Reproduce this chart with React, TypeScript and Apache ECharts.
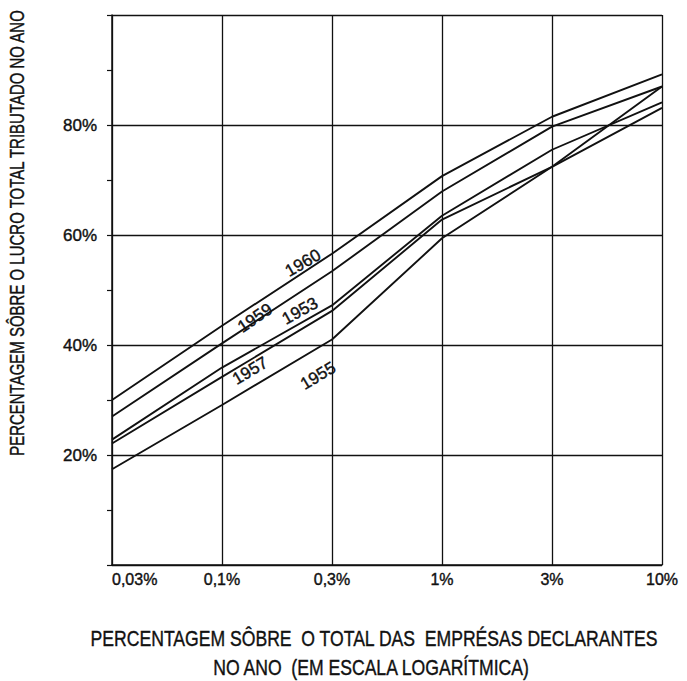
import React, { useEffect, useRef } from "react";
import * as echarts from "echarts";

const categories = ["0,03%", "0,1%", "0,3%", "1%", "3%", "10%"];
const years = ["1960", "1959", "1953", "1957", "1955"];
const s1960 = [30.0, 43.5, 56.6, 70.7, 81.5, 89.2];
const s1959 = [27.0, 40.3, 53.4, 67.9, 79.7, 87.0];
const s1953 = [22.8, 35.9, 47.2, 63.5, 75.5, 84.1];
const s1957 = [22.1, 34.2, 46.2, 62.8, 72.4, 83.1];
const s1955 = [17.4, 29.1, 41.0, 59.4, 72.4, 87.0];
// label anchor points in data space [category index, percent]
const labelAt1960 = [1.736, 54.9];
const labelAt1959 = [1.3, 44.9];
const labelAt1953 = [1.709, 46.2];
const labelAt1957 = [1.255, 35.3];
const labelAt1955 = [1.873, 34.4];
const yTicks = [0, 20, 40, 60, 80, 100];

const FONT = "'Liberation Sans', Arial, Helvetica, sans-serif";
const INK = "#111111";
const EMB = { textBorderColor: INK, textBorderWidth: 0.4 };

export default function App() {
  const ref = useRef<HTMLDivElement>(null);
  useEffect(() => {
    if (!ref.current) return;
    const chart = echarts.init(ref.current, undefined, { renderer: "svg" });
    const seriesValues = [s1960, s1959, s1953, s1957, s1955];
    const labelPos = [labelAt1960, labelAt1959, labelAt1953, labelAt1957, labelAt1955];
    const labelRot = [30, 34, 29, 31, 31];
    chart.setOption({
      animation: false,
      backgroundColor: "#ffffff",
      grid: { left: 112, right: 25, top: 15, bottom: 116 },
      xAxis: {
        type: "value",
        min: 0,
        max: categories.length - 1,
        interval: 1,
        axisLine: { show: true, lineStyle: { color: INK, width: 1.5 } },
        axisTick: { show: false },
        splitLine: { show: true, lineStyle: { color: INK, width: 1.3 } },
        axisLabel: {
          margin: 6,
          color: INK,
          fontSize: 16,
          fontFamily: FONT,
          alignMinLabel: "left",
          ...EMB,
          formatter: (v: number) => categories[Math.round(v)] ?? "",
        },
      },
      yAxis: {
        type: "value",
        min: yTicks[0],
        max: yTicks[yTicks.length - 1],
        interval: 20,
        axisLine: { show: true, lineStyle: { color: INK, width: 1.5 } },
        axisTick: { show: true, length: 5, lineStyle: { color: INK, width: 1.2 } },
        minorTick: { show: true, splitNumber: 2, length: 5, lineStyle: { color: INK, width: 1.2 } },
        splitLine: { show: true, lineStyle: { color: INK, width: 1.3 } },
        axisLabel: {
          margin: 15,
          color: INK,
          fontSize: 17,
          fontFamily: FONT,
          ...EMB,
          formatter: (v: number) => (v === 0 || v === 100 ? "" : v + "%"),
        },
      },
      series: seriesValues.map((vals, k) => ({
        type: "line",
        name: years[k],
        symbol: "none",
        silent: true,
        lineStyle: { color: INK, width: 1.9 },
        data: vals.map((v, i) => [i, v]),
        markPoint: {
          symbol: "circle",
          symbolSize: 1,
          silent: true,
          itemStyle: { color: "rgba(0,0,0,0)" },
          label: {
            show: true,
            position: "inside",
            formatter: "{b}",
            rotate: labelRot[k],
            color: INK,
            fontSize: 17,
            fontFamily: FONT,
            ...EMB,
          },
          data: [{ name: years[k], coord: labelPos[k] }],
        },
      })),
      graphic: [
        {
          type: "text",
          x: 17,
          y: 233,
          rotation: Math.PI / 2,
          scaleX: 0.75,
          style: {
            text: "PERCENTAGEM SÔBRE O LUCRO TOTAL TRIBUTADO NO ANO",
            fill: INK,
            stroke: INK,
            lineWidth: 0.4,
            font: `20px ${FONT}`,
            align: "center",
            verticalAlign: "middle",
          },
        },
        {
          type: "text",
          x: 374,
          y: 638,
          scaleX: 0.8,
          style: {
            text: "PERCENTAGEM SÔBRE  O TOTAL DAS  EMPRÉSAS DECLARANTES",
            fill: INK,
            stroke: INK,
            lineWidth: 0.4,
            font: `22px ${FONT}`,
            align: "center",
            verticalAlign: "middle",
          },
        },
        {
          type: "text",
          x: 371,
          y: 667,
          scaleX: 0.8,
          style: {
            text: "NO ANO  (EM ESCALA LOGARÍTMICA)",
            fill: INK,
            stroke: INK,
            lineWidth: 0.4,
            font: `22px ${FONT}`,
            align: "center",
            verticalAlign: "middle",
          },
        },
      ],
    });
    return () => chart.dispose();
  }, []);
  return (
    <div
      ref={ref}
      style={{ position: "absolute", left: 0, top: 0, width: 687, height: 681, background: "#fff" }}
    />
  );
}
